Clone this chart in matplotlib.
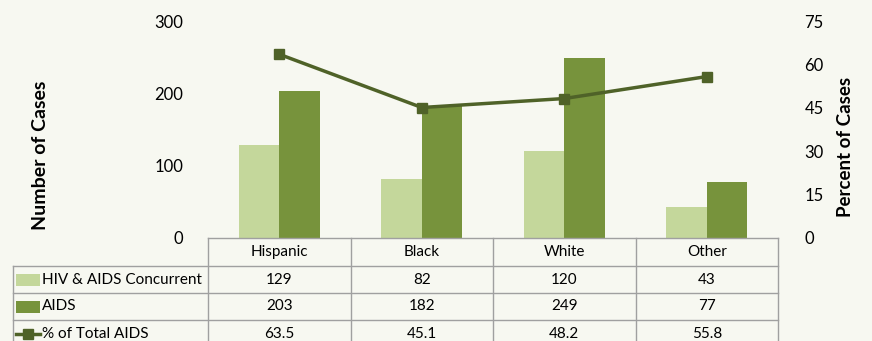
import matplotlib.pyplot as plt
from matplotlib.lines import Line2D
from matplotlib.patches import Rectangle

categories = ["Hispanic", "Black", "White", "Other"]
concurrent = [129, 82, 120, 43]
aids = [203, 182, 249, 77]
pct_aids = [63.5, 45.1, 48.2, 55.8]
series_names = ["HIV & AIDS Concurrent", "AIDS", "% of Total AIDS"]
left_ticks = [0, 100, 200, 300]
right_ticks = [0, 15, 30, 45, 60, 75]

bg = "#F7F8F1"
light = "#C4D79B"
dark = "#77933C"
line_col = "#4F6228"
grid_col = "#A0A0A0"

plt.rcParams["font.family"] = ["Lato", "DejaVu Sans"]

W, H = 872, 341
fig = plt.figure(figsize=(W / 100, H / 100), dpi=100, facecolor=bg)

# pixel geometry
x0, x1 = 208, 778
ytop, ybot = 21, 238
ax = fig.add_axes([x0 / W, 1 - ybot / H, (x1 - x0) / W, (ybot - ytop) / H])
ax.set_facecolor("none")
n = len(categories)
xs = list(range(n))
bw = 0.285
ax.bar([x - bw / 2 for x in xs], concurrent, width=bw, color=light)
ax.bar([x + bw / 2 for x in xs], aids, width=bw, color=dark)
ax.set_xlim(-0.5, n - 0.5)
ax.set_ylim(0, 300)
ax.set_yticks(left_ticks)
ax.set_xticks([])
for s in ax.spines.values():
    s.set_visible(False)
ax.tick_params(axis="y", length=0, labelsize=12, pad=18, colors="#000000")

ax2 = ax.twinx()
ax2.plot(xs, pct_aids, color=line_col, lw=2.5, marker="s", ms=7.5)
ax2.set_ylim(0, 75)
ax2.set_yticks(right_ticks)
for s in ax2.spines.values():
    s.set_visible(False)
ax2.tick_params(axis="y", length=0, labelsize=12, pad=19)

# data table drawn in pixel coordinates
tab = fig.add_axes([0, 0, 1, 1])
tab.set_xlim(0, W)
tab.set_ylim(H, 0)
tab.axis("off")
tab.patch.set_visible(False)

# axis titles
tab.text(40, 155, "Number of Cases", rotation=90, ha="center", va="center",
         fontsize=14, fontweight="bold")
tab.text(845, 147, "Percent of Cases", rotation=90, ha="center", va="center",
         fontsize=13.5, fontweight="bold")

rows_y = [238, 266, 293, 320, 347]
col_w = (x1 - x0) / n
col_x = [x0 + i * col_w for i in range(n + 1)]
xleft = 13
lw = 1.0
# horizontal lines
tab.plot([x0, x1], [rows_y[0]] * 2, color=grid_col, lw=lw)
for y in rows_y[1:]:
    tab.plot([xleft, x1], [y, y], color=grid_col, lw=lw)
# vertical lines
for cx in col_x:
    tab.plot([cx, cx], [rows_y[0], rows_y[-1]], color=grid_col, lw=lw)
tab.plot([xleft, xleft], [rows_y[1], rows_y[-1]], color=grid_col, lw=lw)

fs = 11
for i, c in enumerate(categories):
    tab.text(col_x[i] + col_w / 2, (rows_y[0] + rows_y[1]) / 2, c,
             ha="center", va="center", fontsize=fs)
row_vals = [concurrent, aids, [f"{v:.1f}" for v in pct_aids]]
for r, vals in enumerate(row_vals):
    yc = (rows_y[r + 1] + rows_y[r + 2]) / 2
    for i, v in enumerate(vals):
        tab.text(col_x[i] + col_w / 2, yc, str(v), ha="center", va="center", fontsize=fs)
    tab.text(42, yc, series_names[r], ha="left", va="center", fontsize=fs)

# legend keys
for r, col in enumerate([light, dark]):
    yc = (rows_y[r + 1] + rows_y[r + 2]) / 2
    tab.add_patch(Rectangle((16, yc - 6), 24, 12, color=col, lw=0))
yc = (rows_y[3] + rows_y[4]) / 2
tab.add_line(Line2D([16, 40], [yc, yc], color=line_col, lw=2.5))
tab.add_line(Line2D([28], [yc], color=line_col, marker="s", ms=7))

fig.savefig("out.png", dpi=100, facecolor=bg)
